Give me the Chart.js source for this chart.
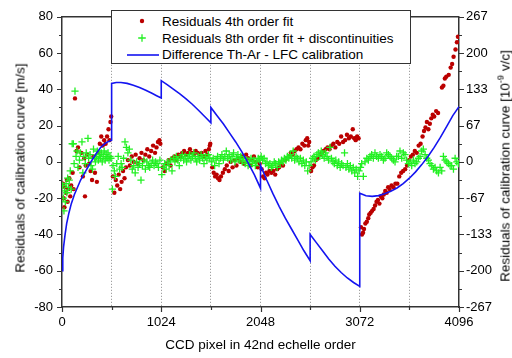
<!DOCTYPE html>
<html>
<head>
<meta charset="utf-8">
<script src="https://cdn.jsdelivr.net/npm/chart.js@4.4.1/dist/chart.umd.min.js"></script>
<style>
  body { margin: 0; background: #fff; }
  #wrap { position: relative; width: 512px; height: 358px; font-family: 'Liberation Sans', Arial, sans-serif; color: #000; }
  #legend { position: absolute; left: 111px; top: 10px; width: 298px; height: 52px; border: 1px solid #333; background: #fff; font-size: 13.5px; }
  #legend .row { position: absolute; left: 0; height: 17px; line-height: 17px; white-space: nowrap; }
  #legend .txt { position: absolute; left: 50px; top: 0; }
  #legend svg { position: absolute; }
  .vtitle { position: absolute; font-size: 13.5px; white-space: nowrap; transform: translate(-50%, -50%) rotate(-90deg); }
  .vtitle sup { font-size: 9px; vertical-align: 6px; line-height: 0; }
</style>
</head>
<body>
<div id="wrap">
  <canvas id="grafico" width="512" height="358"></canvas>
  <div id="legend"></div>
  <div class="vtitle" style="left:20px; top:168px;">Residuals of calibration curve [m/s]</div>
  <div class="vtitle" style="left:505px; top:166px;">Residuals of calibration curve [10<sup>-9</sup> v/c]</div>
</div>
<script>
// valores (x = pixel CCD, y = m/s)

const seriesNames = ['Residuals 4th order fit', 'Residuals 8th order fit + discontinuities', 'Difference Th-Ar - LFC calibration']

const xTickLabels = [0, 1024, 2048, 3072, 4096]
const yTickLabels = [-80, -60, -40, -20, 0, 20, 40, 60, 80]
const y2TickLabels = ['-267', '-200', '-133', '-67', '0', '67', '133', '200', '267']

const redResiduals = [
  [10,-12],[18,-20],[25,-25],[32,-14],[40,-17],[50,-10],[58,-22],[66,-15],[75,-9],[85,-19],[95,-13],[110,-6],[120,-15],[134,35],
  [150,6],[165,8],[180,-3],[200,5],[215,-8],[237,-19],[230,2],[245,-2],[260,4],[280,-1],[295,-5],[310,-10],[325,3],[340,-6],[360,-11],
  [375,5],[390,10],[405,14],[420,9],[435,12],[450,10],[465,14],[480,18],[490,12],[500,22],[508,25],
  [525,-8],[540,-17],[555,-10],[570,-13],[585,-7],[600,-15],[615,-11],[630,-5],[645,-9],[660,-3],[680,1],[700,-2],[720,3],[740,0],
  [760,4],[780,-1],[800,2],[820,5],[840,1],[860,4],[880,7],[900,3],[920,6],[940,9],[960,5],[975,8],[990,11],[1005,12],[1015,10],
  [1040,-3],[1060,-5],[1080,-1],[1100,1],[1120,-2],[1140,2],[1160,3],[1180,1],[1200,4],[1220,3],[1240,5],[1260,6],[1280,4],[1300,5],
  [1320,7],[1340,5],[1360,4],[1380,6],[1400,5],[1420,4],[1440,5],[1460,3],[1480,6],[1500,4],[1515,7],[1525,9],[1530,10],
  [1550,-3],[1565,-6],[1580,-8],[1595,-7],[1610,-9],[1625,-10],[1640,-8],[1660,-6],[1680,-4],[1700,-2],[1720,-5],[1740,0],[1760,-3],
  [1780,1],[1800,-2],[1820,2],[1840,0],[1860,3],[1880,-1],[1900,4],[1920,2],[1940,-2],[1960,1],[1980,3],[2000,0],[2020,-3],[2040,-1],
  [2060,-4],[2075,-8],[2090,-9],[2105,-6],[2120,-7],[2140,-5],[2160,-6],[2180,-5],[2200,-7],[2220,-4],[2240,-3],[2260,-1],[2280,-2],
  [2300,1],[2320,2],[2340,3],[2360,5],[2380,4],[2400,6],[2420,7],[2440,8],[2460,7],[2480,10],[2500,9],[2515,12],[2530,13],[2540,9],[2550,11],
  [2570,-5],[2585,-3],[2600,-2],[2620,1],[2640,2],[2660,4],[2680,5],[2700,6],[2720,7],[2740,8],[2760,7],[2780,9],[2800,10],[2820,8],
  [2840,11],[2860,10],[2880,14],[2900,11],[2920,12],[2940,15],[2960,13],[2980,14],[3000,18],[3015,13],[3030,12],[3045,14],[3060,13],
  [3085,-36],[3095,-40],[3106,-39],[3116,-37],[3130,-34],[3145,-33],[3160,-31],[3170,-29],[3185,-28],[3200,-27],[3215,-26],[3230,-24],
  [3245,-22],[3260,-21],[3275,-23],[3290,-19],[3305,-20],[3320,-18],[3335,-16],[3350,-17],[3365,-14],[3380,-15],[3400,-13],[3420,-14],
  [3440,-12],[3460,-12],[3480,-8],[3500,-6],[3520,-5],[3540,-4],[3560,-2],[3580,1],[3600,3],[3620,4],[3640,6],[3660,5],[3680,9],
  [3700,10],[3720,14],[3735,17],[3750,19],[3765,22],[3780,18],[3795,21],[3810,24],[3825,26],[3840,25],[3860,28],[3880,27],
  [3920,41],[3935,42],[3950,46],[3965,47],[3990,48],[4010,52],[4025,54],[4040,58],[4060,62],[4075,66],[4085,69]
]

const greenResiduals = [
  [8,-13],[14,-20],[20,-27],[26,-16],[34,-22],[42,-12],[50,-17],[58,-9],[66,-14],[75,-10],[85,-5],[95,-15],[105,10],[117,10],[125,-1],
  [134,39],[145,3],[155,6],[165,-3],[180,1],[190,5],[206,11],[215,-6],[225,3],[240,-1],[250,5],[268,13],[275,2],[290,4],[300,-2],
  [315,-4],[325,7],[335,2],[345,0],[355,3],[365,6],[375,1],[385,4],[395,2],[405,5],[415,0],[425,3],[435,6],[445,1],[455,4],[465,2],
  [475,5],[485,1],[495,3],[505,2],
  [520,-15],[526,-2],[540,-5],[550,-8],[565,-1],[580,3],[595,-4],[610,-1],[620,-3],[635,2],[650,11],[665,8],[680,5],[695,7],[710,1],
  [725,-4],[740,-2],[755,-6],[770,0],[785,-3],[800,-1],[815,-10],[830,-2],[845,1],[860,-4],[875,0],[890,-2],[905,-3],[920,-1],[935,1],
  [950,-2],[965,0],[980,-1],[995,-3],[1010,1],
  [1030,-7],[1045,-3],[1060,-1],[1075,-4],[1090,0],[1105,-2],[1120,1],[1135,-5],[1150,2],[1165,0],[1180,3],[1195,1],[1210,-2],[1225,2],
  [1240,4],[1255,1],[1270,3],[1285,0],[1300,2],[1315,4],[1330,1],[1345,3],[1360,5],[1375,2],[1390,0],[1405,3],[1420,1],[1435,4],[1450,2],
  [1465,-1],[1480,3],[1495,1],[1510,4],[1525,2],
  [1545,0],[1560,2],[1575,-2],[1590,1],[1605,3],[1620,-1],[1635,2],[1650,4],[1665,1],[1680,3],[1695,6],[1710,2],[1725,4],[1740,1],
  [1755,3],[1770,5],[1785,0],[1800,2],[1815,4],[1830,1],[1845,3],[1860,0],[1875,2],[1890,-1],[1905,1],[1920,-2],[1935,0],[1950,2],
  [1965,-1],[1980,1],[1995,-2],[2010,0],[2025,2],[2040,1],
  [2055,3],[2070,1],[2085,2],[2100,-1],[2115,0],[2130,-2],[2145,-1],[2160,-3],[2175,-2],[2190,0],[2205,-1],[2220,-3],[2235,0],[2250,-1],
  [2265,1],[2280,0],[2295,2],[2310,1],[2325,3],[2340,2],[2355,4],[2370,2],[2385,6],[2400,1],[2415,3],[2430,2],[2445,0],[2460,2],
  [2475,-1],[2490,1],[2505,-2],[2520,0],[2535,-5],[2550,-2],
  [2570,0],[2585,2],[2600,3],[2615,1],[2630,4],[2645,5],[2660,3],[2675,6],[2690,4],[2705,2],[2720,5],[2735,3],[2750,1],[2765,8],
  [2780,2],[2795,0],[2810,-1],[2825,1],[2840,-2],[2855,0],[2870,-3],[2885,-1],[2900,-2],[2915,5],[2930,-3],[2945,-1],[2960,-4],
  [2975,-2],[2990,-5],[3005,-3],[3020,-6],[3035,-4],[3050,-8],[3065,-5],
  [3080,-3],[3092,-1],[3109,-8],[3126,0],[3145,2],[3161,1],[3178,3],[3195,4],[3212,2],[3229,5],[3246,3],[3264,2],[3281,4],[3299,3],
  [3316,1],[3333,2],[3350,5],[3367,4],[3385,3],[3402,2],[3419,1],[3436,0],[3453,3],[3470,3],[3487,6],[3505,2],[3522,5],[3539,4],
  [3556,1],[3573,-1],[3590,0],[3608,-2],[3625,1],[3642,-1],[3660,0],[3677,2],[3694,3],[3711,6],[3728,7],[3746,4],[3763,2],[3780,1],
  [3797,-1],[3815,-2],[3832,-4],[3849,-3],[3866,-5],[3884,-6],[3901,-3],[3918,-5],[3935,3],[3952,1],[3970,0],[3987,-1],[4004,-2],
  [4021,-2],[4039,-4],[4056,2],[4073,0],[4090,-1]
]

const lfcDifference = [
  [0,-60],[8,-53],[16,-47],[32,-40],[48,-34],[72,-28],[96,-23],[128,-18],[160,-14],[192,-10],[224,-7],[256,-4],[304,0.5],[352,4.5],
  [400,8],[448,10.3],[480,11.3],[512,12],
  [512,43.3],[560,43.8],[608,43.8],[672,43.3],[736,42.3],[800,41],[864,39.5],[928,37.8],[976,36.5],[1024,35.2],
  [1024,44.8],[1088,42.5],[1152,40],[1216,37.5],[1280,34.8],[1344,31.8],[1408,28.5],[1472,25],[1536,21.5],
  [1536,30],[1600,25.5],[1664,21],[1728,16],[1792,11],[1856,5.5],[1920,-0.5],[1984,-7],[2048,-14.5],
  [2048,-2],[2112,-10],[2176,-17.5],[2240,-24.5],[2304,-31],[2368,-37],[2432,-43],[2496,-49],[2560,-54.5],
  [2560,-40],[2624,-44.5],[2688,-49],[2752,-53.5],[2816,-57.5],[2880,-61],[2944,-64],[3008,-66.5],[3072,-68.6],
  [3072,-17.3],[3136,-18.7],[3200,-19],[3264,-18.6],[3328,-17.6],[3392,-16.2],[3456,-14.4],[3520,-12],[3584,-9],[3648,-5.5],
  [3712,-1.5],[3776,3],[3840,8],[3904,13.5],[3968,19.5],[4032,25.5],[4096,30.5]
]

const toXY = arr => arr.map(p => ({x: p[0], y: p[1]}))

Chart.defaults.font.family = "'Liberation Sans', Arial, sans-serif"
Chart.defaults.font.size = 13
Chart.defaults.color = '#000'

// ticks menores + linha de cima da moldura
const molduraTicks = {
  id: 'molduraTicks',
  afterDraw(chart) {
    const {ctx, chartArea: a, scales} = chart
    ctx.save()
    ctx.strokeStyle = '#333'
    ctx.lineWidth = 1.2
    ctx.beginPath()
    scales.x.ticks.forEach(t => {
      const p = Math.round(scales.x.getPixelForValue(t.value)) + 0.5
      const len = xTickLabels.includes(t.value) ? 5 : 3
      ctx.moveTo(p, a.bottom); ctx.lineTo(p, a.bottom + len)
    })
    scales.y.ticks.forEach(t => {
      const p = Math.round(scales.y.getPixelForValue(t.value)) + 0.5
      const len = yTickLabels.includes(t.value) ? 5 : 3
      ctx.moveTo(a.left, p); ctx.lineTo(a.left - len, p)
    })
    scales.y2.ticks.forEach((t, i) => {
      const p = Math.round(scales.y2.getPixelForValue(t.value)) + 0.5
      const len = i % 2 === 0 ? 5 : 3
      ctx.moveTo(a.right, p); ctx.lineTo(a.right + len, p)
    })
    ctx.stroke()
    ctx.lineWidth = 1.5
    ctx.beginPath()
    ctx.moveTo(a.left, a.top); ctx.lineTo(a.right, a.top)
    ctx.stroke()
    ctx.restore()
  }
}

const data = {
  datasets: [
    {
      label: seriesNames[0],
      data: toXY(redResiduals),
      showLine: false,
      pointStyle: 'circle',
      pointRadius: 2.2,
      pointBorderWidth: 0,
      backgroundColor: '#bb0000',
      borderColor: '#bb0000',
      order: 2
    },
    {
      label: seriesNames[1],
      data: toXY(greenResiduals),
      showLine: false,
      pointStyle: 'cross',
      pointRadius: 3.6,
      pointBorderWidth: 1.3,
      backgroundColor: '#22f022',
      borderColor: '#22f022',
      order: 1
    },
    {
      label: seriesNames[2],
      data: toXY(lfcDifference),
      showLine: true,
      pointRadius: 0,
      borderColor: '#1414f0',
      borderWidth: 1.6,
      tension: 0,
      order: 0
    }
  ]
}

const config = {
  type: 'scatter',
  data,
  options: {
    responsive: false,
    animation: false,
    events: [],
    layout: { padding: { top: 11, left: 0, right: 0, bottom: 0 } },
    plugins: { legend: { display: false }, tooltip: { enabled: false } },
    scales: {
      x: {
        type: 'linear',
        min: 0,
        max: 4096,
        afterBuildTicks: s => { s.ticks = []; for (let v = 0; v <= 4096; v += 512) s.ticks.push({value: v}) },
        afterFit: s => { s.height = 51 },
        ticks: { autoSkip: false, maxRotation: 0, padding: 8, callback: v => xTickLabels.includes(v) ? String(v) : '' },
        grid: {
          drawTicks: false,
          lineWidth: 1,
          color: c => (c.tick && c.tick.value > 0 && c.tick.value < 4096) ? '#8a8a8a' : 'rgba(0,0,0,0)'
        },
        border: { color: '#333', width: 1.5, dash: [1, 2] },
        title: { display: true, text: 'CCD pixel in 42nd echelle order', font: { size: 13.5 }, padding: { top: 0, bottom: 5 } }
      },
      y: {
        position: 'left',
        min: -80,
        max: 80,
        afterBuildTicks: s => { s.ticks = []; for (let v = -80; v <= 80; v += 10) s.ticks.push({value: v}) },
        afterFit: s => { s.width = 62 },
        ticks: { autoSkip: false, padding: 9, callback: v => yTickLabels.includes(v) ? String(v) : '' },
        grid: { drawOnChartArea: false, drawTicks: false },
        border: { color: '#333', width: 1.5 }
      },
      y2: {
        position: 'right',
        min: -800 / 3,
        max: 800 / 3,
        afterBuildTicks: s => { s.ticks = []; for (let k = -8; k <= 8; k++) s.ticks.push({value: k * 100 / 3}) },
        afterFit: s => { s.width = 53 },
        ticks: { autoSkip: false, padding: 7, callback: (v, i) => i % 2 === 0 ? y2TickLabels[i / 2] : '' },
        grid: { drawOnChartArea: false, drawTicks: false },
        border: { color: '#333', width: 1.5 }
      }
    }
  },
  plugins: [molduraTicks]
}

const graph = new Chart(document.getElementById('grafico'), config)

// legenda dentro do gráfico, com caixa branca
const legendMarkers = [
  '<svg width="8" height="8" style="left:26px;top:4.5px"><circle cx="4" cy="4" r="2.2" fill="#bb0000"/></svg>',
  '<svg width="10" height="10" style="left:25px;top:3.5px"><path d="M5 1.2V8.8M1.2 5H8.8" stroke="#22f022" stroke-width="1.3"/></svg>',
  '<svg width="32" height="4" style="left:15px;top:6.5px"><line x1="0" y1="2" x2="32" y2="2" stroke="#1414f0" stroke-width="1.6"/></svg>'
]
const rowTops = [1.8, 18.5, 35]
const legendDiv = document.getElementById('legend')
seriesNames.forEach((name, i) => {
  const row = document.createElement('div')
  row.className = 'row'
  row.style.top = rowTops[i] + 'px'
  row.style.width = '298px'
  row.innerHTML = legendMarkers[i] + '<span class="txt">' + name + '</span>'
  legendDiv.appendChild(row)
})
</script>
</body>
</html>
